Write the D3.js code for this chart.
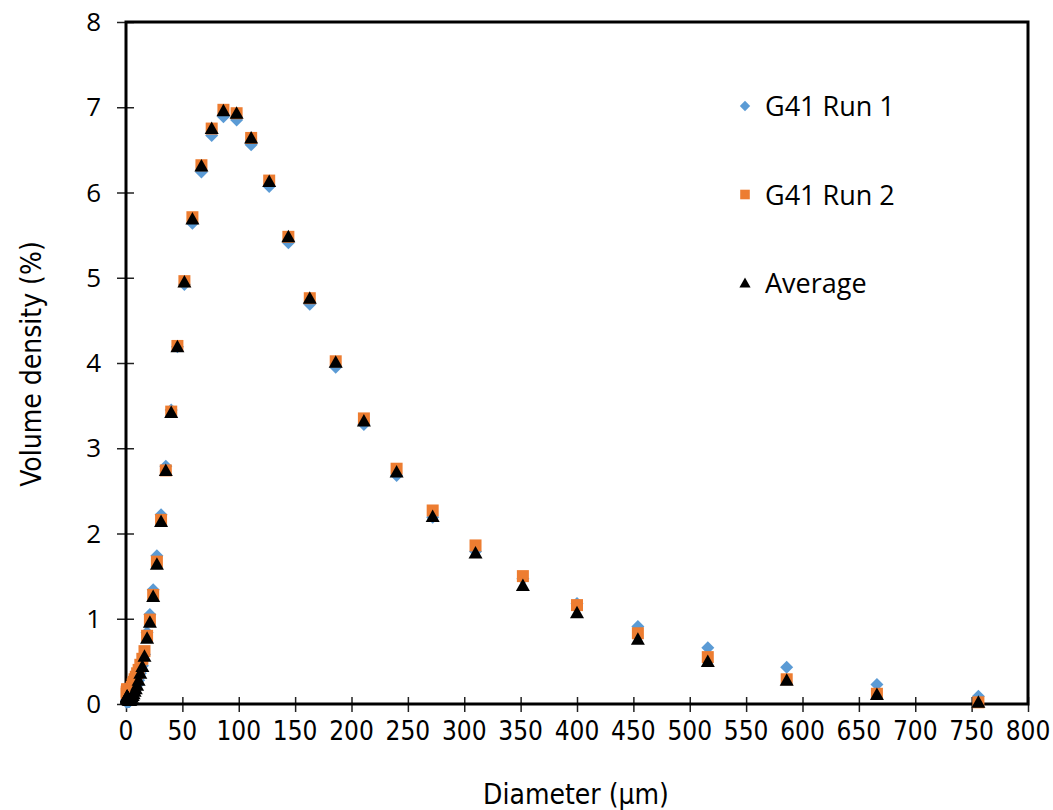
<!DOCTYPE html>
<html>
<head>
<meta charset="utf-8">
<script src="https://cdn.jsdelivr.net/npm/d3@7"></script>
<style>
  body { margin: 0; background: #fff; }
  svg { display: block; }
  .tick-y { font-family: "Open Sans", sans-serif; font-size: 26px; fill: #000; }
  .tick-x { font-family: "DejaVu Sans Condensed", "Liberation Sans", sans-serif; font-size: 26px; fill: #000; }
  .title { font-family: "DejaVu Sans Condensed", "Liberation Sans", sans-serif; font-size: 28px; fill: #000; }
  .legend { font-family: "Open Sans", sans-serif; font-size: 27px; fill: #000; }
</style>
</head>
<body>
<svg width="1053" height="810"></svg>
<script>
// particle size classes (µm)
var diameter = [0.594, 0.675, 0.767, 0.872, 0.991, 1.13, 1.28, 1.45, 1.65, 1.88,
    2.13, 2.42, 2.75, 3.12, 3.55, 4.03, 4.58, 5.21, 5.92, 6.72,
    7.64, 8.68, 9.86, 11.2, 12.7, 14.5, 16.4, 18.7, 21.2, 24.1,
    27.4, 31.1, 35.3, 40.1, 45.6, 51.8, 58.9, 66.9, 76.0, 86.4,
    98.1, 111, 127, 144, 163, 186, 211, 240, 272, 310,
    352, 400, 454, 516, 586, 666, 756];

var run1 = [0.02, 0.03, 0.04, 0.05, 0.05, 0.05, 0.05, 0.04, 0.04, 0.03,
    0.03, 0.03, 0.03, 0.03, 0.04, 0.05, 0.06, 0.08, 0.10, 0.12,
    0.15, 0.18, 0.22, 0.28, 0.36, 0.45, 0.58, 0.84, 1.05, 1.34,
    1.74, 2.22, 2.79, 3.45, 4.19, 4.92, 5.64, 6.24, 6.67, 6.89,
    6.85, 6.56, 6.07, 5.41, 4.69, 3.95, 3.28, 2.68, 2.19, 1.79,
    1.47, 1.18, 0.91, 0.66, 0.43, 0.23, 0.09];

var run2 = [0.12, 0.14, 0.15, 0.16, 0.17, 0.17, 0.17, 0.16, 0.15, 0.14,
    0.13, 0.13, 0.13, 0.13, 0.14, 0.16, 0.18, 0.20, 0.23, 0.26,
    0.29, 0.32, 0.36, 0.40, 0.46, 0.53, 0.62, 0.80, 0.99, 1.28,
    1.67, 2.16, 2.74, 3.43, 4.20, 4.96, 5.71, 6.32, 6.75, 6.97,
    6.93, 6.64, 6.14, 5.48, 4.76, 4.02, 3.35, 2.76, 2.27, 1.86,
    1.50, 1.16, 0.83, 0.55, 0.29, 0.12, 0.02];

var average = [0.06, 0.07, 0.08, 0.09, 0.09, 0.09, 0.08, 0.08, 0.07, 0.06,
    0.05, 0.05, 0.04, 0.04, 0.04, 0.05, 0.06, 0.08, 0.10, 0.12,
    0.15, 0.18, 0.22, 0.28, 0.36, 0.44, 0.56, 0.77, 0.96, 1.26,
    1.64, 2.14, 2.74, 3.42, 4.19, 4.95, 5.69, 6.31, 6.75, 6.96,
    6.93, 6.64, 6.13, 5.48, 4.76, 4.01, 3.32, 2.72, 2.20, 1.77,
    1.39, 1.07, 0.76, 0.50, 0.28, 0.11, 0.02];

var xTicks = d3.range(0, 801, 50);
var yTicks = d3.range(0, 9, 1);

var series = [
    { name: 'G41 Run 1', values: run1, color: '#5B9BD5', shape: 'diamond' },
    { name: 'G41 Run 2', values: run2, color: '#ED7D31', shape: 'square' },
    { name: 'Average', values: average, color: '#000000', shape: 'triangle' }
];

var svg = d3.select('svg');
var plotLeft = 126, plotRight = 1028, plotTop = 22, plotBottom = 704;

var x = d3.scaleLinear().domain([0, 800]).range([plotLeft, plotRight]);
var y = d3.scaleLinear().domain([0, 8]).range([plotBottom, plotTop]);

// marker outlines, centred on 0,0
function markerPath(shape) {
    if (shape === 'diamond') return 'M0,-6.5L6.5,0L0,6.5L-6.5,0Z';
    if (shape === 'square') return 'M-6,-6H6V6H-6Z';
    return 'M0,-7L7,5.5H-7Z';
}

// ticks crossing the axis lines
var xAxis = d3.axisBottom(x).tickValues(xTicks).tickSize(15).tickFormat('');
var yAxis = d3.axisLeft(y).tickValues(yTicks).tickSize(17).tickFormat('');

svg.append('g')
    .attr('transform', 'translate(0,' + (plotBottom - 7) + ')')
    .call(xAxis)
    .call(function (g) {
        g.select('.domain').remove();
        g.selectAll('line').attr('stroke', '#222').attr('stroke-width', 1.5);
    });

svg.append('g')
    .attr('transform', 'translate(' + (plotLeft + 8) + ',0)')
    .call(yAxis)
    .call(function (g) {
        g.select('.domain').remove();
        g.selectAll('line').attr('stroke', '#222').attr('stroke-width', 1.5);
    });

// plot frame
svg.append('rect')
    .attr('x', plotLeft).attr('y', plotTop)
    .attr('width', plotRight - plotLeft).attr('height', plotBottom - plotTop)
    .attr('fill', 'none').attr('stroke', '#000').attr('stroke-width', 3);

// tick labels
svg.append('g').selectAll('text')
    .data(xTicks).enter().append('text')
    .attr('class', 'tick-x')
    .attr('x', function (d) { return x(d); })
    .attr('y', 740)
    .attr('text-anchor', 'middle')
    .text(function (d) { return d; });

svg.append('g').selectAll('text')
    .data(yTicks).enter().append('text')
    .attr('class', 'tick-y')
    .attr('x', 101)
    .attr('y', function (d) { return y(d) + 9; })
    .attr('text-anchor', 'end')
    .text(function (d) { return d; });

// axis titles
svg.append('text')
    .attr('class', 'title')
    .attr('x', 576).attr('y', 804)
    .attr('text-anchor', 'middle')
    .text('Diameter (µm)');

svg.append('text')
    .attr('class', 'title')
    .attr('transform', 'translate(41,364) rotate(-90)')
    .attr('text-anchor', 'middle')
    .text('Volume density (%)');

// data points
series.forEach(function (s) {
    svg.append('g').selectAll('path')
        .data(s.values).enter().append('path')
        .attr('d', markerPath(s.shape))
        .attr('fill', s.color)
        .attr('transform', function (d, i) {
            return 'translate(' + x(diameter[i]) + ',' + y(d) + ')';
        });
});

// legend
var legend = svg.append('g').attr('transform', 'translate(745,106)');
series.forEach(function (s, i) {
    var row = legend.append('g').attr('transform', 'translate(0,' + (i * 88.5) + ')');
    row.append('path')
        .attr('d', markerPath(s.shape))
        .attr('transform', 'scale(0.8)')
        .attr('fill', s.color);
    row.append('text')
        .attr('class', 'legend')
        .attr('x', 20).attr('y', 10)
        .text(s.name);
});
</script>
</body>
</html>
